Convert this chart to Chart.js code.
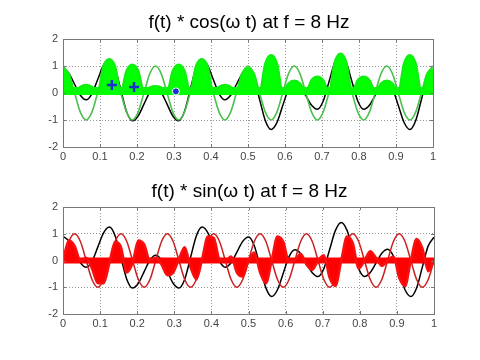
<!DOCTYPE html>
<html>
<head>
<meta charset="utf-8">
<script src="https://cdn.jsdelivr.net/npm/chart.js@4/dist/chart.umd.min.js"></script>
<style>
  html, body { margin: 0; padding: 0; background: #fff; }
  body { width: 480px; height: 360px; position: relative; overflow: hidden; }
  canvas { position: absolute; left: 0; }
  #topChart { top: 0; }
  #bottomChart { top: 170px; }
</style>
</head>
<body>
<canvas id="topChart" width="480" height="170"></canvas>
<canvas id="bottomChart" width="480" height="190"></canvas>
<script>
// muestras cada 1/64 s, de 0 a 1 s
const tStep = 1 / 64;
const time = Array.from({ length: 65 }, (_, i) => i * tStep);

const xTickLabels = ['0', '0.1', '0.2', '0.3', '0.4', '0.5', '0.6', '0.7', '0.8', '0.9', '1'];
const yTickLabels = ['-2', '-1', '0', '1', '2'];

// señal f(t) (curva negra)
const fValues = [
  0.9, 0.732, 0.325, -0.082,
  -0.25, -0.031, 0.5, 1.031,
  1.25, 0.917, 0.11, -0.697,
  -1.03, -0.85, -0.415, 0.02,
  0.2, 0.02, -0.415, -0.85,
  -1.03, -0.697, 0.11, 0.917,
  1.25, 1.031, 0.5, -0.031,
  -0.25, -0.085, 0.315, 0.715,
  0.88, 0.554, -0.235, -1.024,
  -1.35, -1.095, -0.475, 0.145,
  0.4, 0.254, -0.1, -0.454,
  -0.6, -0.305, 0.41, 1.125,
  1.42, 1.125, 0.41, -0.305,
  -0.6, -0.451, -0.09, 0.271,
  0.42, 0.162, -0.465, -1.092,
  -1.35, -1.026, -0.24, 0.546,
  0.87
];

// cos(wt) a 8 Hz (curva verde)
const cosValues = [
  1, 0.71, 0, -0.71, -1, -0.71, 0, 0.71,
  1, 0.71, 0, -0.71, -1, -0.71, 0, 0.71,
  1, 0.71, 0, -0.71, -1, -0.71, 0, 0.71,
  1, 0.71, 0, -0.71, -1, -0.71, 0, 0.71,
  1, 0.71, 0, -0.71, -1, -0.71, 0, 0.71,
  1, 0.71, 0, -0.71, -1, -0.71, 0, 0.71,
  1, 0.71, 0, -0.71, -1, -0.71, 0, 0.71,
  1, 0.71, 0, -0.71, -1, -0.71, 0, 0.71,
  1
];

// sin(wt) a 8 Hz (curva roja)
const sinValues = [
  0, 0.71, 1, 0.71, 0, -0.71, -1, -0.71,
  0, 0.71, 1, 0.71, 0, -0.71, -1, -0.71,
  0, 0.71, 1, 0.71, 0, -0.71, -1, -0.71,
  0, 0.71, 1, 0.71, 0, -0.71, -1, -0.71,
  0, 0.71, 1, 0.71, 0, -0.71, -1, -0.71,
  0, 0.71, 1, 0.71, 0, -0.71, -1, -0.71,
  0, 0.71, 1, 0.71, 0, -0.71, -1, -0.71,
  0, 0.71, 1, 0.71, 0, -0.71, -1, -0.71,
  0
];

// f(t)*cos(wt) (relleno verde)
const prodCosValues = [
  0.9, 0.7, 0.04, 0.23,
  0.3, 0.23, 0.04, 0.98,
  1.25, 0.98, 0.04, 0.82,
  1.05, 0.82, 0.04, 0.2,
  0.25, 0.2, 0.04, 0.82,
  1.05, 0.82, 0.04, 0.98,
  1.25, 0.98, 0.04, 0.23,
  0.3, 0.23, 0.04, 0.72,
  0.92, 0.72, 0.04, 1.09,
  1.4, 1.09, 0.04, 0.35,
  0.45, 0.35, 0.04, 0.47,
  0.6, 0.47, 0.04, 1.13,
  1.45, 1.13, 0.04, 0.47,
  0.6, 0.47, 0.04, 0.35,
  0.45, 0.35, 0.04, 1.09,
  1.4, 1.09, 0.04, 0.7,
  0.9
];

// f(t)*sin(wt) (relleno rojo)
const prodSinValues = [
  0, 0.75, 0.55, 0,
  0.1, -0.3, -0.85, -0.85,
  -0.1, 0.7, 0.5, -0.45,
  -0.1, 0.75, 0.6, 0,
  0.1, -0.15, -0.55, -0.45,
  0.05, 0.5, -0.25, -0.7,
  0.05, 0.9, 0.85, 0.05,
  0, 0.15, -0.45, -0.6,
  0, 0.3, -0.45, -0.85,
  0, 0.9, 0.7, -0.05,
  0, 0.25, -0.15, -0.35,
  0, 0.2, -0.65, -0.95,
  0, 0.9, 0.65, -0.3,
  0, 0.35, 0.1, -0.2,
  0, 0.15, -0.65, -0.95,
  0, 0.8, 0.45, -0.4,
  0
];

// franja del relleno sobre el eje
const bandTopValues = [0.07, 0.07];
const bandBottomValues = [0, 0];
const bandT = [0, 1];

// marcas azules (cursor) en la gráfica de arriba
const markerT = [0.132, 0.192, 0.305];
const markerValues = [0.3, 0.22, 0.06];

const points = (xs, ys) => xs.map((x, i) => ({ x: x, y: ys[i] }));

const tickFont = { family: '"Liberation Sans", Arial, sans-serif', size: 11 };

// título centrado sobre el área del gráfico
const plotTitle = {
  id: 'plotTitle',
  afterDraw(chart, args, opts) {
    const { ctx, chartArea } = chart;
    ctx.save();
    ctx.font = '19px "Liberation Sans", Arial, sans-serif';
    ctx.fillStyle = '#000';
    ctx.textAlign = 'center';
    ctx.textBaseline = 'middle';
    ctx.fillText(opts.text, (chartArea.left + chartArea.right) / 2 + 1, opts.y);
    ctx.restore();
  }
};

// caja alrededor de los ejes, estilo MATLAB, con marcas hacia dentro
const axesBox = {
  id: 'axesBox',
  afterDatasetsDraw(chart) {
    const { ctx, chartArea: a, scales } = chart;
    ctx.save();
    ctx.strokeStyle = '#777';
    ctx.lineWidth = 1;
    ctx.beginPath();
    scales.x.ticks.forEach(t => {
      const px = Math.round(scales.x.getPixelForValue(t.value)) + 0.5;
      ctx.moveTo(px, a.bottom); ctx.lineTo(px, a.bottom - 3);
      ctx.moveTo(px, a.top); ctx.lineTo(px, a.top + 3);
    });
    scales.y.ticks.forEach(t => {
      const py = Math.round(scales.y.getPixelForValue(t.value)) + 0.5;
      ctx.moveTo(a.left, py); ctx.lineTo(a.left + 3, py);
      ctx.moveTo(a.right, py); ctx.lineTo(a.right - 3, py);
    });
    ctx.stroke();
    ctx.strokeRect(Math.round(a.left) + 0.5, Math.round(a.top) + 0.5,
      Math.round(a.right - a.left), Math.round(a.bottom - a.top));
    ctx.restore();
  }
};

function makeScales(yWidth, xHeight) {
  return {
    x: {
      type: 'linear', min: 0, max: 1,
      afterFit: s => { s.height = xHeight; },
      afterBuildTicks: s => { s.ticks = xTickLabels.map(l => ({ value: parseFloat(l) })); },
      ticks: {
        font: tickFont, color: '#444', padding: 3, maxRotation: 0, autoSkip: false,
        callback: (v, i) => xTickLabels[i]
      },
      grid: { color: 'rgba(0,0,0,0.4)', lineWidth: 1, drawTicks: false },
      border: { display: false, dash: [1, 2] }
    },
    y: {
      type: 'linear', min: -2, max: 2,
      afterFit: s => { s.width = yWidth; },
      afterBuildTicks: s => { s.ticks = yTickLabels.map(l => ({ value: parseFloat(l) })); },
      ticks: {
        font: tickFont, color: '#444', padding: 5,
        callback: (v, i) => yTickLabels[i]
      },
      grid: { color: 'rgba(0,0,0,0.4)', lineWidth: 1, drawTicks: false },
      border: { display: false, dash: [1, 2] }
    }
  };
}

function lineSet(data, color, width) {
  return {
    data: data, borderColor: color, borderWidth: width, pointRadius: 0,
    fill: false, cubicInterpolationMode: 'monotone'
  };
}

// gráfica superior: f(t) * cos(wt)
const topChart = new Chart(document.getElementById('topChart').getContext('2d'), {
  type: 'line',
  data: {
    datasets: [
      {
        data: points(markerT, markerValues), showLine: false,
        pointStyle: ['cross', 'cross', 'circle'],
        pointRadius: [5, 5, 3.5],
        pointBorderWidth: [2.5, 2.5, 1],
        pointBorderColor: ['#1a2fd0', '#1a2fd0', '#ffffff'],
        pointBackgroundColor: '#1a2fd0'
      },
      {
        data: points(time, prodCosValues), borderColor: '#10f010', borderWidth: 2.5,
        backgroundColor: '#00ff00', fill: 'origin', pointRadius: 0,
        cubicInterpolationMode: 'monotone'
      },
      lineSet(points(bandT, bandTopValues), '#00ff00', 8),
      lineSet(points(time, cosValues), '#4cc04c', 1.6),
      lineSet(points(time, fValues), '#000000', 1.5)
    ]
  },
  options: {
    responsive: false, maintainAspectRatio: false, animation: false,
    layout: { padding: { left: 0, right: 47, top: 39, bottom: 0 } },
    plugins: {
      legend: { display: false }, tooltip: { enabled: false },
      plotTitle: { text: 'f(t) * cos(\u03c9 t) at f = 8 Hz', y: 23 }
    },
    scales: makeScales(63, 23)
  },
  plugins: [plotTitle, axesBox]
});

// gráfica inferior: f(t) * sin(wt)
const bottomChart = new Chart(document.getElementById('bottomChart').getContext('2d'), {
  type: 'line',
  data: {
    datasets: [
      {
        data: points(time, prodSinValues), borderColor: '#f81010', borderWidth: 2.5,
        backgroundColor: '#ff0000', fill: 'origin', pointRadius: 0,
        cubicInterpolationMode: 'monotone'
      },
      lineSet(points(bandT, bandBottomValues), '#ff0000', 6),
      lineSet(points(time, sinValues), '#cc2020', 1.5),
      lineSet(points(time, fValues), '#000000', 1.5)
    ]
  },
  options: {
    responsive: false, maintainAspectRatio: false, animation: false,
    layout: { padding: { left: 0, right: 46, top: 37, bottom: 0 } },
    plugins: {
      legend: { display: false }, tooltip: { enabled: false },
      plotTitle: { text: 'f(t) * sin(\u03c9 t) at f = 8 Hz', y: 22 }
    },
    scales: makeScales(63, 46)
  },
  plugins: [plotTitle, axesBox]
});
</script>
</body>
</html>
